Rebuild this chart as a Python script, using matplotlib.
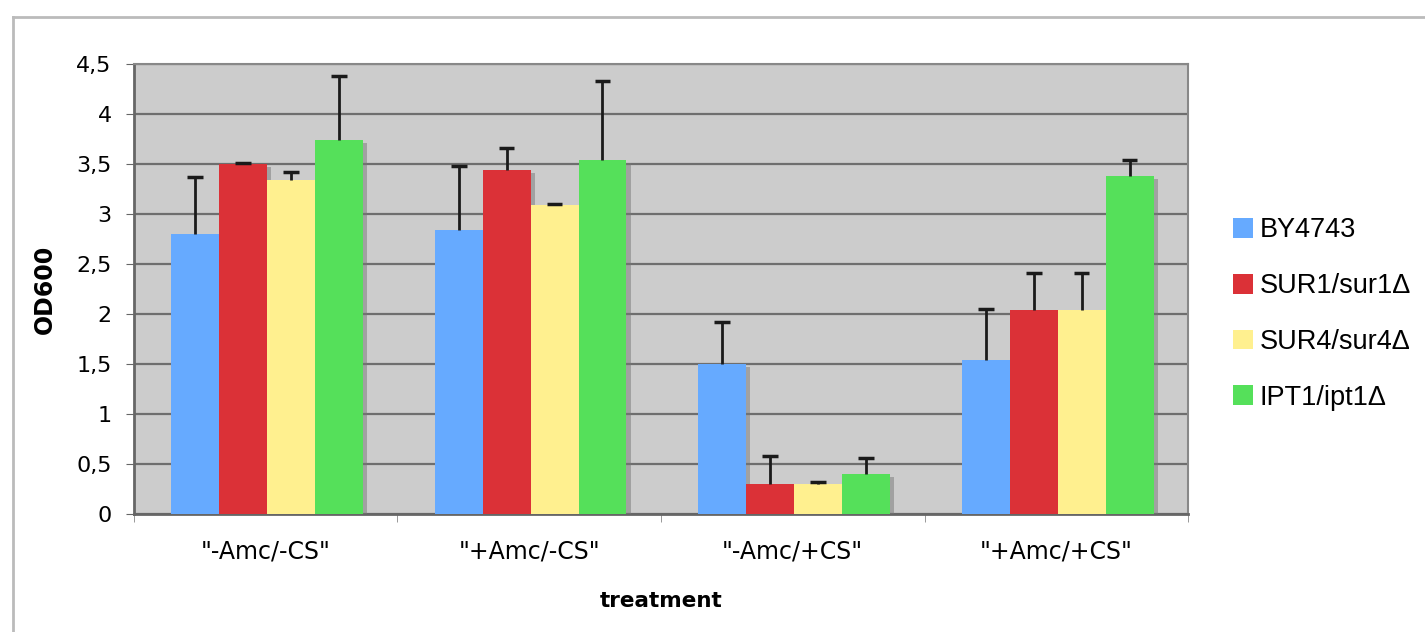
import matplotlib
matplotlib.use("Agg")
import matplotlib.pyplot as plt
import matplotlib.patheffects as pe
from matplotlib.lines import Line2D
from matplotlib.patches import Patch
from matplotlib.ticker import FuncFormatter, MultipleLocator
import numpy as np

# data
treatments = ['"-Amc/-CS"', '"+Amc/-CS"', '"-Amc/+CS"', '"+Amc/+CS"']
strains = ["BY4743", "SUR1/sur1\u0394", "SUR4/sur4\u0394", "IPT1/ipt1\u0394"]
by4743 = [2.80, 2.84, 1.50, 1.54]
sur1 = [3.50, 3.44, 0.30, 2.04]
sur4 = [3.34, 3.09, 0.30, 2.04]
ipt1 = [3.74, 3.54, 0.40, 3.38]
by4743_err = [0.57, 0.64, 0.42, 0.51]
sur1_err = [0.01, 0.22, 0.28, 0.37]
sur4_err = [0.08, 0.01, 0.02, 0.37]
ipt1_err = [0.64, 0.79, 0.16, 0.16]

colors = ["#66aaff", "#db3137", "#fff08f", "#55e05a"]

fig = plt.figure(figsize=(14.25, 6.32), dpi=100)
ax = fig.add_axes([0.094, 0.1867, 0.7397, 0.712])
ax.set_facecolor("#cccccc")

# outer chart frame
fig.add_artist(Line2D([13 / 1425, 13 / 1425], [0, 1 - 17 / 632],
                      transform=fig.transFigure, color="#bbbbbb", lw=2))
fig.add_artist(Line2D([13 / 1425, 1], [1 - 17 / 632, 1 - 17 / 632],
                      transform=fig.transFigure, color="#bbbbbb", lw=2))

x = np.arange(len(treatments))
width = 0.182
cap = 0.03
series = [by4743, sur1, sur4, ipt1]
errors = [by4743_err, sur1_err, sur4_err, ipt1_err]
shadow = [pe.SimplePatchShadow(offset=(3, -2), shadow_rgbFace="#777777", alpha=0.5), pe.Normal()]
for i, (vals, errs) in enumerate(zip(series, errors)):
    pos = x + (i - 1.5) * width + 0.005
    vals = np.array(vals)
    tops = vals + np.array(errs)
    ax.bar(pos, vals, width, color=colors[i], zorder=3, path_effects=shadow)
    # upper error bars only, cap at the top end
    ax.vlines(pos, vals, tops, color="#1a1a1a", lw=2, zorder=4)
    ax.hlines(tops, pos - cap, pos + cap, color="#1a1a1a", lw=2.5, zorder=4)

ax.set_xlim(-0.5, 3.5)
ax.set_ylim(0, 4.5)
ax.yaxis.set_major_locator(MultipleLocator(0.5))
ax.yaxis.set_major_formatter(FuncFormatter(lambda v, p: ("%g" % v).replace(".", ",")))
ax.grid(axis="y", color="#6e6e6e", lw=1.6, zorder=1)
ax.set_axisbelow(True)

ax.set_xticks(x)
ax.set_xticklabels(treatments)
ax.set_xticks(np.arange(-0.5, 4.0, 1.0), minor=True)
ax.tick_params(axis="x", which="major", length=0, pad=18, labelsize=17)
ax.tick_params(axis="x", which="minor", length=6, color="#888888")
ax.tick_params(axis="y", length=6, color="#666666", labelsize=16, pad=10)

for s in ["top", "right"]:
    ax.spines[s].set_color("#888888")
    ax.spines[s].set_linewidth(1.5)
for s in ["left", "bottom"]:
    ax.spines[s].set_color("#666666")
    ax.spines[s].set_linewidth(2)

ax.set_ylabel("OD600", fontsize=17, fontweight="bold", labelpad=14)
ax.set_xlabel("treatment", fontsize=15.5, fontweight="bold", labelpad=20)

handles = [Patch(facecolor=c, edgecolor="none") for c in colors]
leg = fig.legend(handles, strains, loc="center left", bbox_to_anchor=(0.848, 0.503),
                 frameon=False, prop={"family": "Liberation Sans", "size": 19.5},
                 handlelength=0.75, handleheight=0.75, handletextpad=0.25,
                 labelspacing=1.1)

fig.savefig("out.png", dpi=100)
